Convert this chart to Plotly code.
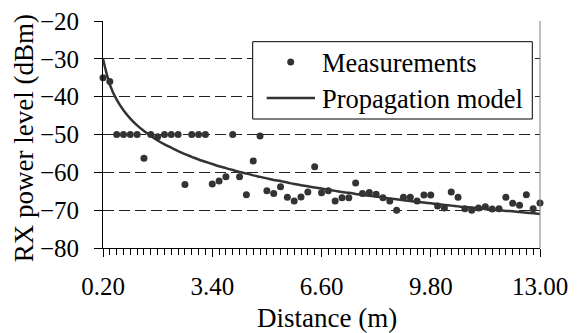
import plotly.graph_objects as go

distance_m = [0.2, 0.4, 0.6, 0.8, 1.0, 1.2, 1.4, 1.6, 1.8, 2.0,
              2.2, 2.4, 2.6, 2.8, 3.0, 3.2, 3.4, 3.6, 3.8, 4.0,
              4.2, 4.4, 4.6, 4.8, 5.0, 5.2, 5.4, 5.6, 5.8, 6.0,
              6.2, 6.4, 6.6, 6.8, 7.0, 7.2, 7.4, 7.6, 7.8, 8.0,
              8.2, 8.4, 8.6, 8.8, 9.0, 9.2, 9.4, 9.6, 9.8, 10.0,
              10.2, 10.4, 10.6, 10.8, 11.0, 11.2, 11.4, 11.6, 11.8, 12.0,
              12.2, 12.4, 12.6, 12.8, 13.0]

measurements_dbm = [-35.0, -36.0, -50.0, -50.0, -50.0, -50.0, -56.3, -50.0, -50.6, -50.0,
                    -50.0, -50.0, -63.2, -50.0, -50.0, -50.0, -63.1, -62.3, -61.2, -50.0,
                    -61.2, -65.9, -57.0, -50.4, -64.9, -65.6, -63.8, -66.6, -67.6, -66.5,
                    -65.2, -58.5, -65.4, -64.9, -67.6, -66.7, -66.7, -62.8, -65.6, -65.3,
                    -65.8, -66.7, -67.6, -70.0, -66.6, -66.6, -67.6, -66.0, -66.0, -68.9,
                    -69.4, -65.2, -66.6, -69.6, -70.0, -69.4, -69.1, -69.7, -69.6, -66.6,
                    -68.2, -68.7, -65.9, -69.6, -68.1]

model_dbm = [-30.0, -36.8, -40.8, -43.6, -45.8, -47.6, -49.1, -50.4, -51.6, -52.6,
             -53.5, -54.4, -55.2, -55.9, -56.6, -57.2, -57.8, -58.4, -58.9, -59.4,
             -59.9, -60.3, -60.8, -61.2, -61.6, -62.0, -62.3, -62.7, -63.1, -63.4,
             -63.7, -64.0, -64.3, -64.6, -64.9, -65.2, -65.4, -65.7, -66.0, -66.2,
             -66.4, -66.7, -66.9, -67.1, -67.4, -67.6, -67.8, -68.0, -68.2, -68.4,
             -68.6, -68.8, -69.0, -69.2, -69.3, -69.5, -69.7, -69.9, -70.0, -70.2,
             -70.3, -70.5, -70.7, -70.8, -71.0]

x_tick_vals = [0.2, 3.4, 6.6, 9.8, 13.0]
x_tick_text = ["0.20", "3.40", "6.60", "9.80", "13.00"]
y_tick_vals = [-80, -70, -60, -50, -40, -30, -20]

x_title = "Distance (m)"
y_title = "RX power level (dBm)"
legend_names = ["Measurements", "Propagation model"]

FONT = "Liberation Serif"
W, H = 579, 333
ML, MR, MT, MB = 103, 39, 21, 85
PW, PH = W - ML - MR, H - MT - MB


def px(xp):
    return (xp - ML) / PW


def py(yp):
    return 1 - (yp - MT) / PH


tick_font = dict(family=FONT, size=25, color="black")
title_font = dict(family=FONT, size=27, color="black")
leg_font = dict(family=FONT, size=26.5, color="black")

fig = go.Figure()
fig.add_trace(go.Scatter(
    x=distance_m, y=model_dbm, mode="lines", name=legend_names[1],
    line=dict(color="#333333", width=2.5, shape="spline"), cliponaxis=False,
    showlegend=False))
fig.add_trace(go.Scatter(
    x=distance_m, y=measurements_dbm, mode="markers", name=legend_names[0],
    marker=dict(color="#333333", size=7), cliponaxis=False, showlegend=False))

fig.update_layout(
    width=W, height=H,
    margin=dict(l=ML, r=MR, t=MT, b=MB, pad=0),
    paper_bgcolor="white", plot_bgcolor="white",
    font=tick_font,
    showlegend=False,
    xaxis=dict(
        range=[0.2, 13.0], tickmode="array", tickvals=x_tick_vals, ticktext=x_tick_text,
        tickfont=tick_font,
        showgrid=False, zeroline=False, showline=True, linecolor="black", linewidth=1,
        ticks="outside", ticklen=8, tickcolor="black", tickwidth=1,
        ticklabelstandoff=8,
        minor=dict(dtick=0.2, tick0=0.2, ticks="outside", ticklen=6, tickcolor="black",
                   tickwidth=1, showgrid=False),
        automargin=False,
    ),
    yaxis=dict(
        range=[-80, -20], tickmode="array", tickvals=y_tick_vals,
        tickfont=tick_font,
        showgrid=True, gridcolor="#222222", gridwidth=1, griddash="11px,5px",
        zeroline=False, showline=True, linecolor="black", linewidth=1,
        ticks="outside", ticklen=8, tickcolor="black", tickwidth=1,
        ticklabelstandoff=10,
        automargin=False,
    ),
)

# axis titles
fig.add_annotation(xref="paper", yref="paper", x=px(326.7), y=py(318), text=x_title,
                   showarrow=False, xanchor="center", yanchor="middle", font=title_font)
fig.add_annotation(xref="paper", yref="paper", x=px(24), y=py(138.3), text=y_title,
                   textangle=-90, showarrow=False, xanchor="center", yanchor="middle",
                   font=title_font)

# right plot-area border
fig.add_shape(type="line", xref="paper", yref="paper", x0=1, x1=1, y0=0, y1=1,
              line=dict(color="#808080", width=1), layer="above")

# legend box
fig.add_shape(type="rect", xref="paper", yref="paper",
              x0=px(252.7), x1=px(532.3), y0=py(119), y1=py(41.7),
              line=dict(color="black", width=1), fillcolor="white", layer="above")
fig.add_shape(type="circle", xref="paper", yref="paper", xsizemode="pixel", ysizemode="pixel",
              xanchor=px(290.7), yanchor=py(62), x0=-3.5, x1=3.5, y0=-3.5, y1=3.5,
              fillcolor="#333333", line=dict(color="#333333", width=0), layer="above")
fig.add_shape(type="line", xref="paper", yref="paper",
              x0=px(266.7), x1=px(315), y0=py(98), y1=py(98),
              line=dict(color="#333333", width=2.5), layer="above")
fig.add_annotation(xref="paper", yref="paper", x=px(320), y=py(63), text=legend_names[0],
                   showarrow=False, xanchor="left", yanchor="middle", font=leg_font)
fig.add_annotation(xref="paper", yref="paper", x=px(320), y=py(99), text=legend_names[1],
                   showarrow=False, xanchor="left", yanchor="middle", font=leg_font)

fig.write_html("out.html")
